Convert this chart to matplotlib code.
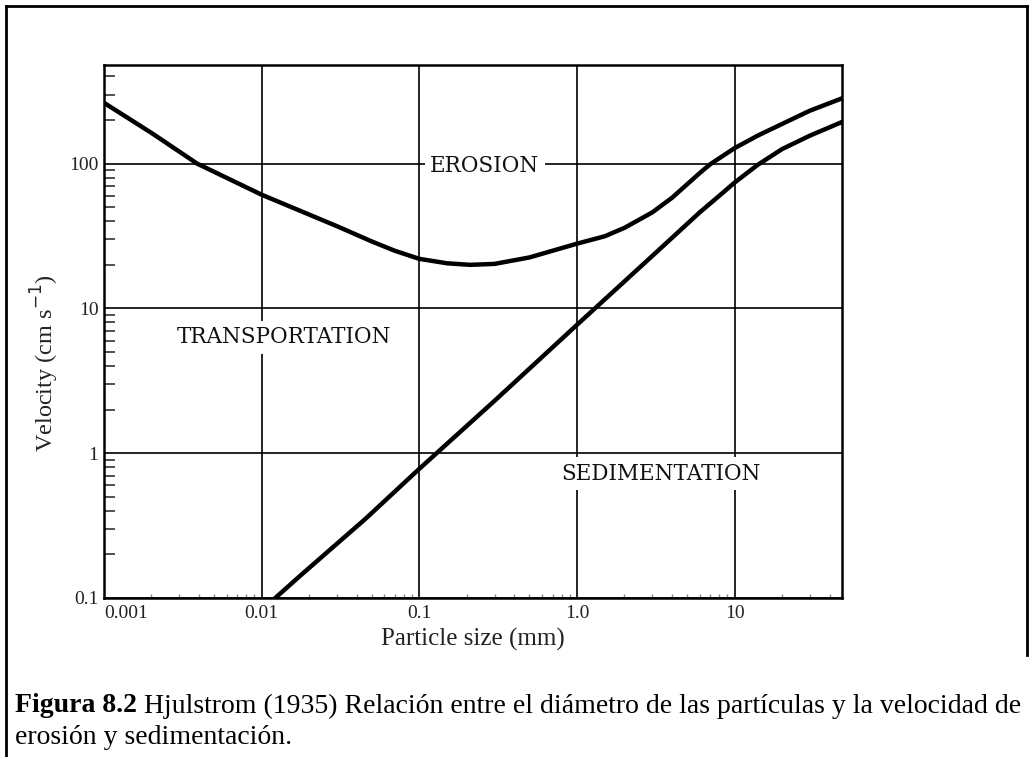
import matplotlib
matplotlib.use("Agg")
import matplotlib.pyplot as plt
from matplotlib.lines import Line2D
from matplotlib.ticker import LogLocator, NullFormatter, FixedLocator, FixedFormatter

# particle size (mm) and velocity (cm/s)
erosion_size = [0.001, 0.002, 0.0039, 0.01, 0.03, 0.05, 0.07, 0.1, 0.15, 0.21, 0.3,
                0.5, 1.0, 1.5, 2.0, 3.0, 4.0, 5.0, 6.0, 7.0, 8.0, 10, 14, 20, 30, 47]
erosion_vel = [263, 163, 100, 61, 37, 29, 25, 22, 20.5, 20, 20.3,
               22.5, 28, 31.5, 36, 46, 58, 72, 86, 99, 109, 128, 156, 188, 232, 280]

sediment_size = [0.0122, 0.0175, 0.0454, 0.1, 0.3, 1.0, 3.0, 6.0, 8.0, 10, 14, 20, 30, 47]
sediment_vel = [0.1, 0.142, 0.351, 0.78, 2.3, 7.7, 23, 46, 60, 74, 98, 126, 156, 192]

x_ticks = [0.001, 0.01, 0.1, 1.0, 10]
x_labels = ["0.001", "0.01", "0.1", "1.0", "10"]
y_ticks = [0.1, 1, 10, 100]
y_labels = ["0.1", "1", "10", "100"]

# region labels: (text, x, y)
regions = [("EROSION", 0.26, 97), ("TRANSPORTATION", 0.0139, 6.3),
           ("SEDIMENTATION", 3.39, 0.72)]

caption_bold = "Figura 8.2"
caption_rest = " Hjulstrom (1935) Relación entre el diámetro de las partículas y la velocidad de"
caption_line2 = "erosión y sedimentación."

serif = ["Liberation Serif", "DejaVu Serif"]
plt.rcParams["font.family"] = serif

W, H = 1031, 757
fig = plt.figure(figsize=(W / 100, H / 100), dpi=100)
ax = fig.add_axes([104 / W, 1 - 598 / H, (842 - 104) / W, (598 - 65) / H])

ax.plot(erosion_size, erosion_vel, color="black", lw=3.2, solid_joinstyle="round", zorder=3)
ax.plot(sediment_size, sediment_vel, color="black", lw=3.2, solid_joinstyle="round", zorder=3)

ax.set_xscale("log")
ax.set_yscale("log")
ax.set_xlim(0.001, 48)
ax.set_ylim(0.1, 480)

ax.xaxis.set_major_locator(FixedLocator(x_ticks))
ax.xaxis.set_major_formatter(FixedFormatter(x_labels))
ax.yaxis.set_major_locator(FixedLocator(y_ticks))
ax.yaxis.set_major_formatter(FixedFormatter(y_labels))
ax.xaxis.set_minor_locator(LogLocator(base=10, subs=range(2, 10), numticks=20))
ax.yaxis.set_minor_locator(LogLocator(base=10, subs=range(2, 10), numticks=20))
ax.xaxis.set_minor_formatter(NullFormatter())
ax.yaxis.set_minor_formatter(NullFormatter())

ax.tick_params(which="major", length=0, labelsize=14, colors="#222222")
ax.tick_params(axis="x", which="major", pad=5)
ax.tick_params(axis="y", which="major", pad=4)
ax.tick_params(axis="y", which="minor", direction="in", length=8, width=1.2, color="#333333")
ax.tick_params(axis="x", which="minor", direction="in", length=3, width=1, color="#888888")
ax.get_xticklabels()[0].set_horizontalalignment("left")

ax.grid(True, which="major", color="black", lw=1.2)
for s in ax.spines.values():
    s.set_linewidth(1.8)

ax.set_xlabel("Particle size (mm)", fontsize=18, color="#222222", labelpad=4)
ax.set_ylabel("Velocity (cm s$^{-1}$)", fontsize=17.5, color="#222222")
ax.yaxis.set_label_coords(-0.058, 0.44)

for text, x, y in regions:
    ax.text(x, y, text, fontsize=15.5, family=["DejaVu Serif"], ha="center", va="center",
            color="#111111", bbox=dict(boxstyle="square,pad=0.25", fc="white", ec="none"),
            zorder=4)

# page frame around the figure
fig.add_artist(Line2D([6 / W, 6 / W], [0, 1 - 6 / H], color="black", lw=2))
fig.add_artist(Line2D([6 / W, 1027 / W], [1 - 6 / H, 1 - 6 / H], color="black", lw=2))
fig.add_artist(Line2D([1027 / W, 1027 / W], [1 - 6 / H, 1 - 655 / H], color="black", lw=2))

# caption, bold figure number followed by regular text
t_bold = fig.text(15 / W, 1 - 706 / H, caption_bold, fontsize=20, fontweight="bold",
                  va="center", ha="left")
fig.canvas.draw()
bb = t_bold.get_window_extent(renderer=fig.canvas.get_renderer())
fig.text(bb.x1 / W, 1 - 706 / H, caption_rest, fontsize=20, va="center", ha="left")
fig.text(15 / W, 1 - 737 / H, caption_line2, fontsize=20, va="center", ha="left")

fig.savefig("out.png", dpi=100, facecolor="white")
